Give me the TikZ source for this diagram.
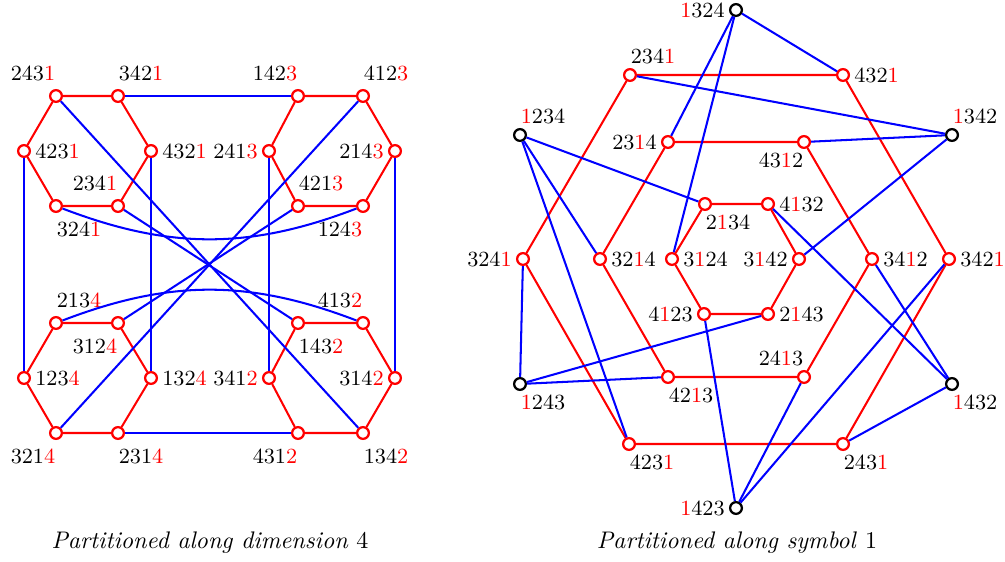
\documentclass[tikz,border=0pt]{standalone}
\usepackage{tikz}
\usepackage{xcolor}

\newcommand{\rdig}[1]{\textcolor{red}{#1}}

\begin{document}
\begin{tikzpicture}[x=0.41667pt, y=-0.41667pt,
  every node/.style={font=\small},
  vtx/.style   ={circle, draw=red, fill=white, line width=0.95pt, inner sep=0pt, minimum size=4.9pt},
  fixed/.style ={vtx, draw=black},
  redge/.style ={red, line width=0.85pt},
  bedge/.style ={blue, line width=0.85pt},
  lbl/.style   ={inner sep=1.6pt},
  vup/.style   ={},
  vdown/.style ={},
  labL/.style  ={label={[lbl]left:{#1}}},
  labR/.style  ={label={[lbl]right:{#1}}},
  labAL/.style ={label={[lbl, vup, xshift=-9.6pt]above:{#1}}},
  labAR/.style ={label={[lbl, vup, xshift=9.6pt]above:{#1}}},
  labBL/.style ={label={[lbl, vdown, xshift=-9.6pt]below:{#1}}},
  labBR/.style ={label={[lbl, vdown, xshift=9.6pt]below:{#1}}},
  caption/.style={font=\normalsize},
]
\useasboundingbox (0,0) rectangle (1005,561);

%% ---------------- Partitioned along dimension 4 ----------------
\begin{scope}[vup/.style={yshift=1.7pt}, vdown/.style={yshift=-1.7pt}]
% last symbol 1
\node[vtx, labAL={243\rdig{1}}] (dim2431) at (56,96)  {};
\node[vtx, labAR={342\rdig{1}}] (dim3421) at (118,96) {};
\node[vtx, labR={423\rdig{1}}]  (dim4231) at (24,151) {};
\node[vtx, labR={432\rdig{1}}]  (dim4321) at (151,151) {};
\node[vtx, labBR={324\rdig{1}}] (dim3241) at (56,206) {};
\node[vtx, labAL={234\rdig{1}}] (dim2341) at (118,206) {};

% last symbol 3
\node[vtx, labAL={142\rdig{3}}] (dim1423) at (298,96) {};
\node[vtx, labAR={412\rdig{3}}] (dim4123) at (363,96) {};
\node[vtx, labL={241\rdig{3}}]  (dim2413) at (269,151) {};
\node[vtx, labL={214\rdig{3}}]  (dim2143) at (395,151) {};
\node[vtx, labAR={421\rdig{3}}] (dim4213) at (298,206) {};
\node[vtx, labBL={124\rdig{3}}] (dim1243) at (363,206) {};

% last symbol 4
\node[vtx, labAR={213\rdig{4}}] (dim2134) at (56,323) {};
\node[vtx, labBL={312\rdig{4}}] (dim3124) at (118,323) {};
\node[vtx, labR={123\rdig{4}}]  (dim1234) at (24,378) {};
\node[vtx, labR={132\rdig{4}}]  (dim1324) at (151,378) {};
\node[vtx, labBL={321\rdig{4}}] (dim3214) at (56,433) {};
\node[vtx, labBR={231\rdig{4}}] (dim2314) at (118,433) {};

% last symbol 2
\node[vtx, labBR={143\rdig{2}}] (dim1432) at (298,323) {};
\node[vtx, labAL={413\rdig{2}}] (dim4132) at (363,323) {};
\node[vtx, labL={341\rdig{2}}]  (dim3412) at (269,378) {};
\node[vtx, labL={314\rdig{2}}]  (dim3142) at (395,378) {};
\node[vtx, labBL={431\rdig{2}}] (dim4312) at (298,433) {};
\node[vtx, labBR={134\rdig{2}}] (dim1342) at (363,433) {};
\end{scope}

% hexagons
\draw[redge] (dim2431) -- (dim3421) -- (dim4321) -- (dim2341) -- (dim3241) -- (dim4231) -- (dim2431);
\draw[redge] (dim1423) -- (dim4123) -- (dim2143) -- (dim1243) -- (dim4213) -- (dim2413) -- (dim1423);
\draw[redge] (dim2134) -- (dim3124) -- (dim1324) -- (dim2314) -- (dim3214) -- (dim1234) -- (dim2134);
\draw[redge] (dim1432) -- (dim4132) -- (dim3142) -- (dim1342) -- (dim4312) -- (dim3412) -- (dim1432);

% links between the parts
\draw[bedge] (dim3421) -- (dim1423);
\draw[bedge] (dim2314) -- (dim4312);
\draw[bedge] (dim4231) -- (dim1234);
\draw[bedge] (dim4321) -- (dim1324);
\draw[bedge] (dim2413) -- (dim3412);
\draw[bedge] (dim2143) -- (dim3142);
\draw[bedge] (dim2431) -- (dim1342);
\draw[bedge] (dim2341) -- (dim1432);
\draw[bedge] (dim4123) -- (dim3214);
\draw[bedge] (dim4213) -- (dim3124);
\draw[bedge] (dim3241) to[bend right=21] (dim1243);
\draw[bedge] (dim2134) to[bend left=21]  (dim4132);

\node[caption] (capDim) at (210,543) {\textit{Partitioned along dimension} $4$};

%% ---------------- Partitioned along symbol 1 ----------------
% symbol 1 in front
\node[fixed, labL={\rdig{1}324}]  (sym1324) at (736,10)  {};
\node[fixed, labAR={\rdig{1}234}] (sym1234) at (520,135) {};
\node[fixed, labAR={\rdig{1}342}] (sym1342) at (952,135) {};
\node[fixed, labBR={\rdig{1}243}] (sym1243) at (520,384) {};
\node[fixed, labBR={\rdig{1}432}] (sym1432) at (952,384) {};
\node[fixed, labL={\rdig{1}423}]  (sym1423) at (736,508) {};

% outer hexagon, 1 last
\node[vtx, labAR={234\rdig{1}}] (sym2341) at (630,75)  {};
\node[vtx, labR={432\rdig{1}}]  (sym4321) at (843,75)  {};
\node[vtx, labL={324\rdig{1}}]  (sym3241) at (523,259) {};
\node[vtx, labR={342\rdig{1}}]  (sym3421) at (949,259) {};
\node[vtx, labBR={423\rdig{1}}] (sym4231) at (629,444) {};
\node[vtx, labBR={243\rdig{1}}] (sym2431) at (843,444) {};

% middle hexagon, 1 third
\node[vtx, labL={23\rdig{1}4}]  (sym2314) at (668,142) {};
\node[vtx, labBL={43\rdig{1}2}] (sym4312) at (804,142) {};
\node[vtx, labR={32\rdig{1}4}]  (sym3214) at (600,259) {};
\node[vtx, labR={34\rdig{1}2}]  (sym3412) at (872,259) {};
\node[vtx, labBR={42\rdig{1}3}] (sym4213) at (668,377) {};
\node[vtx, labAL={24\rdig{1}3}] (sym2413) at (804,377) {};

% inner hexagon, 1 second
\node[vtx, labBR={2\rdig{1}34}] (sym2134) at (705,204) {};
\node[vtx, labR={4\rdig{1}32}]  (sym4132) at (768,204) {};
\node[vtx, labR={3\rdig{1}24}]  (sym3124) at (672,259) {};
\node[vtx, labL={3\rdig{1}42}]  (sym3142) at (799,259) {};
\node[vtx, labL={4\rdig{1}23}]  (sym4123) at (704,314) {};
\node[vtx, labR={2\rdig{1}43}]  (sym2143) at (768,314) {};

% hexagons
\draw[redge] (sym2341) -- (sym4321) -- (sym3421) -- (sym2431) -- (sym4231) -- (sym3241) -- (sym2341);
\draw[redge] (sym2314) -- (sym4312) -- (sym3412) -- (sym2413) -- (sym4213) -- (sym3214) -- (sym2314);
\draw[redge] (sym2134) -- (sym4132) -- (sym3142) -- (sym2143) -- (sym4123) -- (sym3124) -- (sym2134);

% links to the fixed vertices
\draw[bedge] (sym1324) -- (sym4321);
\draw[bedge] (sym1324) -- (sym2314);
\draw[bedge] (sym1324) -- (sym3124);
\draw[bedge] (sym1234) -- (sym2134);
\draw[bedge] (sym1234) -- (sym3214);
\draw[bedge] (sym1234) -- (sym4231);
\draw[bedge] (sym1342) -- (sym2341);
\draw[bedge] (sym1342) -- (sym4312);
\draw[bedge] (sym1342) -- (sym3142);
\draw[bedge] (sym1243) -- (sym3241);
\draw[bedge] (sym1243) -- (sym4213);
\draw[bedge] (sym1243) -- (sym2143);
\draw[bedge] (sym1432) -- (sym4132);
\draw[bedge] (sym1432) -- (sym3412);
\draw[bedge] (sym1432) -- (sym2431);
\draw[bedge] (sym1423) -- (sym4123);
\draw[bedge] (sym1423) -- (sym2413);
\draw[bedge] (sym1423) -- (sym3421);

\node[caption] (capSym) at (737,543) {\textit{Partitioned along symbol} $1$};

\end{tikzpicture}
\end{document}
